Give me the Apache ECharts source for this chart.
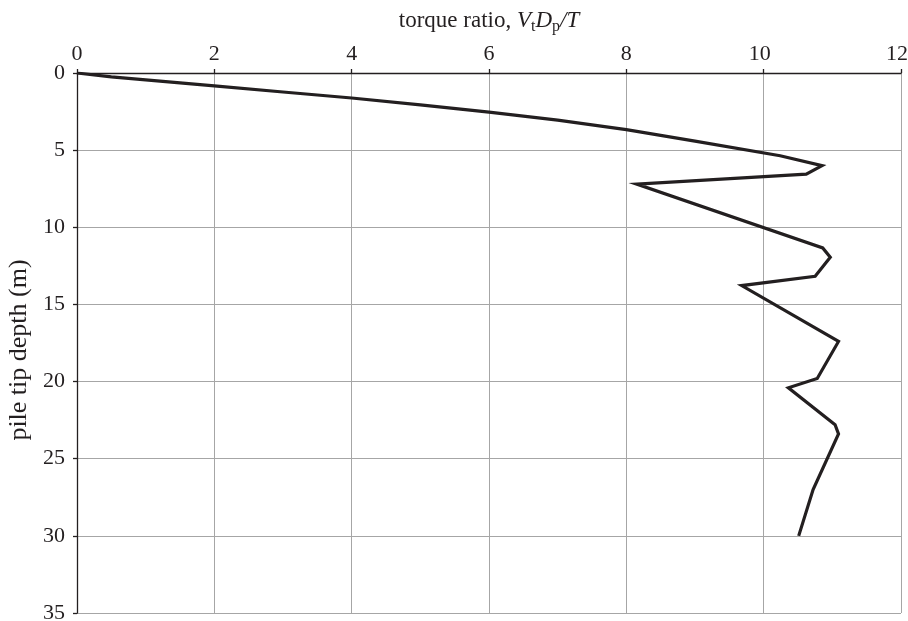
<!DOCTYPE html>
<html>
<head>
<meta charset="utf-8">
<script src="https://cdn.jsdelivr.net/npm/echarts@6/dist/echarts.min.js"></script>
<style>
  html, body { margin: 0; padding: 0; background: #fff; }
  #app { width: 908px; height: 621px; }
</style>
</head>
<body>
<div id="app"></div>
<script>
// torque ratio (x) against pile tip depth (y, m)
const torqueRatio = [0, 0.5, 1, 2, 3, 4, 5, 6, 7, 8, 9, 10.24, 10.85, 10.62, 8.15,
  10.86, 10.97, 10.75, 9.68, 11.09, 10.78, 10.36, 11.04, 11.09, 10.72, 10.51];
const tipDepth = [0, 0.25, 0.45, 0.84, 1.23, 1.62, 2.06, 2.53, 3.05, 3.67, 4.42, 5.36, 6.0, 6.55, 7.2,
  11.34, 11.95, 13.18, 13.78, 17.4, 19.8, 20.4, 22.8, 23.4, 27.0, 30.0];

const xTicks = [0, 2, 4, 6, 8, 10, 12];
const yTicks = [0, 5, 10, 15, 20, 25, 30, 35];

const serif = "'Liberation Serif', 'DejaVu Serif', serif";
const ink = "#231f20";

const points = torqueRatio.map((x, i) => [x, tipDepth[i]]);

const chart = echarts.init(document.getElementById("app"), null, { renderer: "canvas" });

chart.setOption({
  backgroundColor: "#fff",
  animation: false,
  grid: { left: 77, right: 7, top: 73, bottom: 8, containLabel: false, outerBoundsMode: "none" },
  xAxis: {
    type: "value",
    position: "top",
    min: xTicks[0],
    max: xTicks[xTicks.length - 1],
    interval: 2,
    name: "{n|torque ratio, }{i|V}{s|t}{i|D}{s|p}{i|/T}",
    nameLocation: "middle",
    nameGap: 38,
    nameTextStyle: {
      rich: {
        n: { fontFamily: serif, fontSize: 23, color: ink },
        i: { fontFamily: serif, fontSize: 23, fontStyle: "italic", color: ink },
        s: { fontFamily: serif, fontSize: 16, color: ink, padding: [13, 0, 0, 0] }
      }
    },
    axisLine: { show: true, onZero: false, lineStyle: { color: ink, width: 1.3 } },
    axisTick: { show: true, inside: false, length: 4, lineStyle: { color: ink, width: 1.3 } },
    axisLabel: {
      fontFamily: serif, fontSize: 22, color: ink, margin: 8,
      // two-digit labels sit a little left of their tick in the original
      formatter: v => (v >= 10 ? "{w|" + v + "}" : String(v)),
      rich: { w: { fontFamily: serif, fontSize: 22, color: ink, padding: [0, 8, 0, 0] } }
    },
    splitLine: { show: true, lineStyle: { color: "#a6a6a6", width: 1 } }
  },
  yAxis: {
    type: "value",
    inverse: true,
    min: yTicks[0],
    max: yTicks[yTicks.length - 1],
    interval: 5,
    name: "pile tip depth (m)",
    nameLocation: "middle",
    nameGap: 42,
    nameTextStyle: { fontFamily: serif, fontSize: 26, color: ink, padding: [0, 14, 0, 0] },
    axisLine: { show: true, onZero: false, lineStyle: { color: ink, width: 1.3 } },
    axisTick: { show: true, inside: false, length: 4, lineStyle: { color: ink, width: 1.3 } },
    axisLabel: { fontFamily: serif, fontSize: 22, color: ink, margin: 12 },
    splitLine: { show: true, lineStyle: { color: "#a6a6a6", width: 1 } }
  },
  series: [{
    type: "line",
    data: points,
    showSymbol: false,
    symbol: "none",
    lineStyle: { color: ink, width: 3.2, join: "miter" },
    z: 5
  }]
});
</script>
</body>
</html>
